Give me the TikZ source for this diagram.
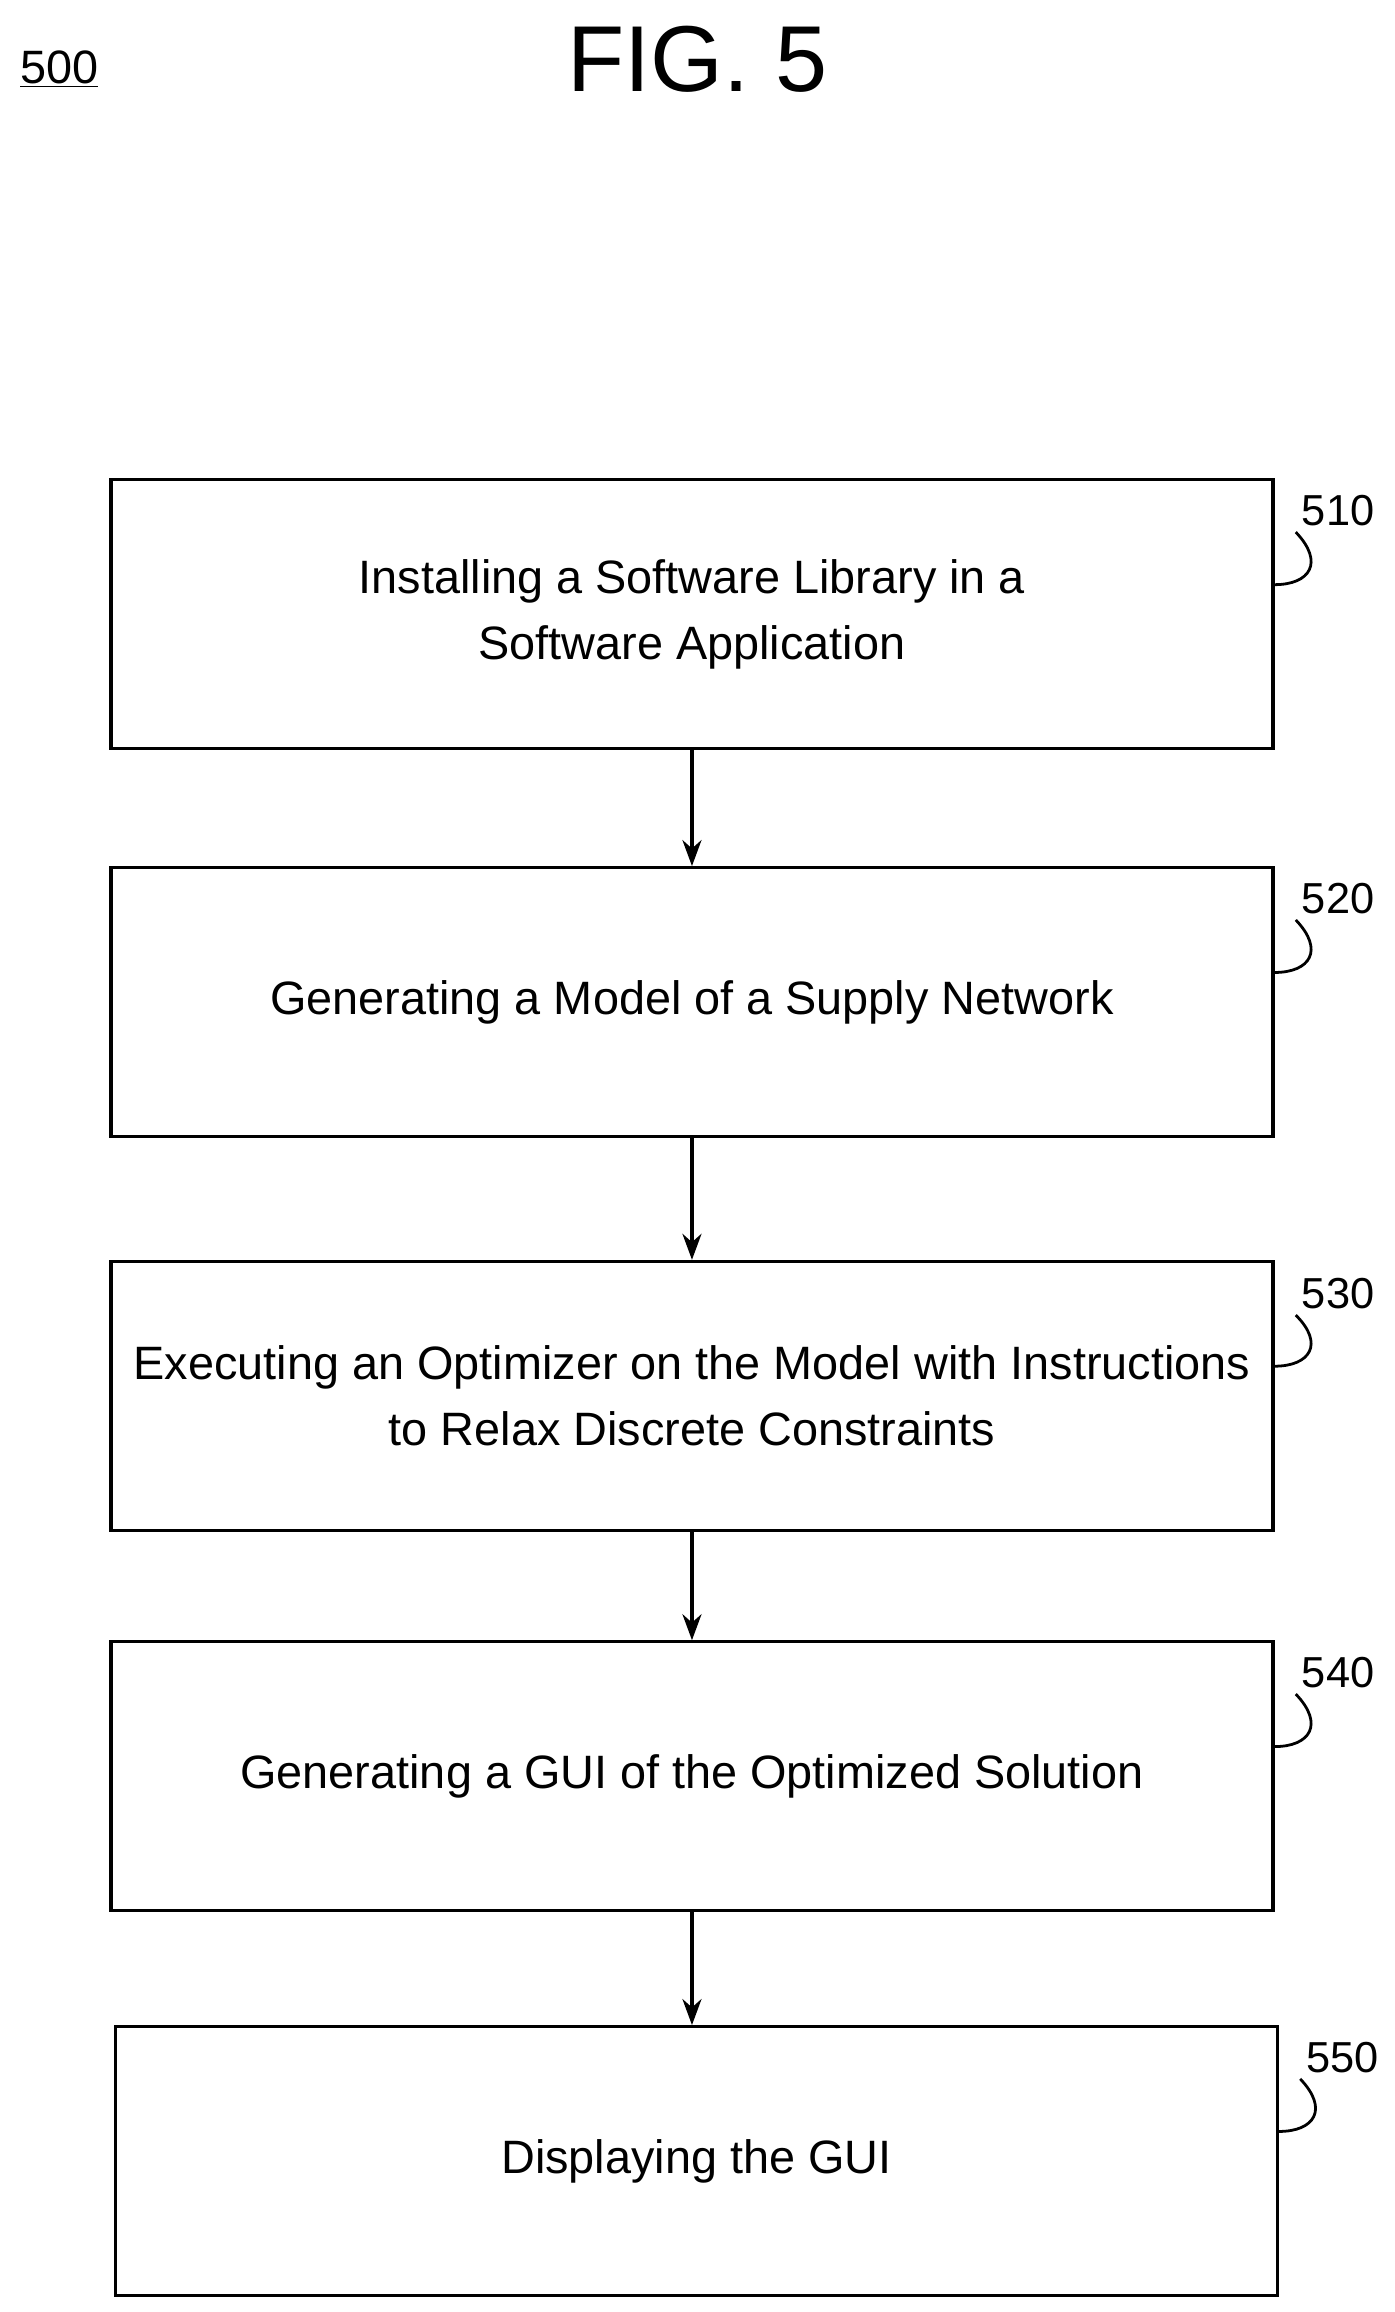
\documentclass[tikz,border=0pt]{standalone}
\usepackage{fontspec}
\setmainfont{Liberation Sans}
\usetikzlibrary{positioning, arrows.meta}

\tikzset{
  stepbox/.style={rectangle, draw, line width=1.8pt, minimum width=23.55cm, minimum height=5.45cm,
    align=center, font=\fontsize{27}{38}\selectfont},
  refnum/.style={font=\fontsize{25}{30}\selectfont},
  flow/.style={-{Stealth[length=15pt,width=11pt]}, line width=1.8pt},
  lead/.style={line width=1.6pt}
}

\begin{document}
\begin{tikzpicture}[x=0.03cm, y=-0.03cm]
	\useasboundingbox (0,0) rectangle (942,1562);
	\node at (471,40) (fig) {\fontsize{54}{60}\selectfont FIG. 5};
	\node at (40,47) (num) {\fontsize{27}{30}\selectfont\underline{500}};
	% steps
	\node at (467.5,415) [stepbox] (s510) {Installing a Software Library in a\\Software Application};
	\node at (467.5,677) [stepbox] (s520) {Generating a Model of a Supply Network};
	\node at (467.5,943) [stepbox] (s530) {Executing an Optimizer on the Model with Instructions\\to Relax Discrete Constraints};
	\node at (467.5,1200) [stepbox] (s540) {Generating a GUI of the Optimized Solution};
	\node at (470.5,1460) [stepbox] (s550) {Displaying the GUI};
	\draw[flow] (s510) -- (s520);
	\draw[flow] (s520) -- (s530);
	\draw[flow] (s530) -- (s540);
	\draw[flow] (s540.south) -- (s540.south |- s550.north);
	% reference numbers
	\node at (904,345) [refnum] (l510) {510};
	\node at (904,607) [refnum] (l520) {520};
	\node at (904,874) [refnum] (l530) {530};
	\node at (904,1130) [refnum] (l540) {540};
	\node at (907,1390) [refnum] (l550) {550};
	\draw[lead] (s510.east |- 0,395) .. controls (885,395) and (895,380) .. (l510.south west);
	\draw[lead] (s520.east |- 0,657) .. controls (885,657) and (895,642) .. (l520.south west);
	\draw[lead] (s530.east |- 0,923) .. controls (885,923) and (895,908) .. (l530.south west);
	\draw[lead] (s540.east |- 0,1180) .. controls (885,1180) and (895,1165) .. (l540.south west);
	\draw[lead] (s550.east |- 0,1440) .. controls (888,1440) and (898,1425) .. (l550.south west);
\end{tikzpicture}
\end{document}
